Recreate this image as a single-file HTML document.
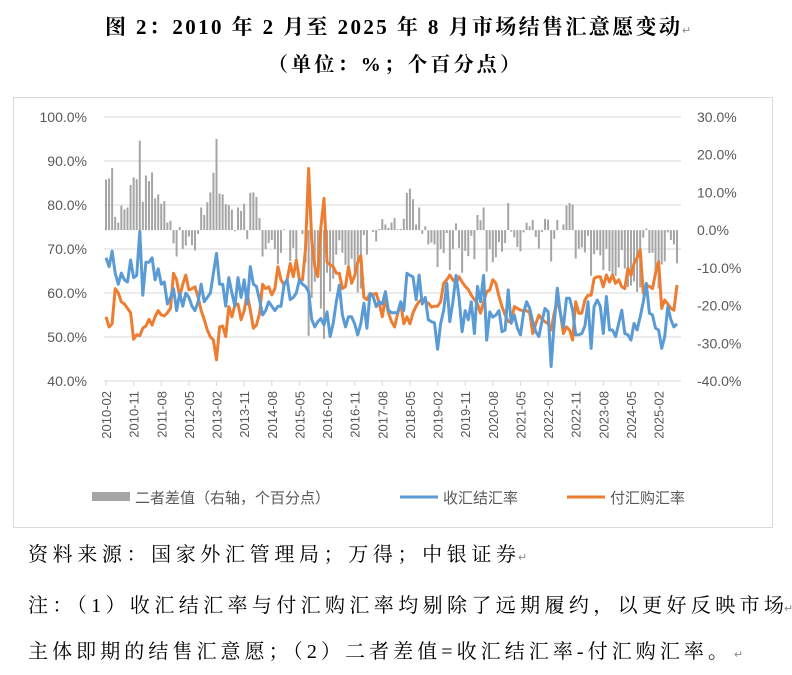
<!DOCTYPE html>
<html><head><meta charset="utf-8">
<style>
body{margin:0;background:#fff;width:792px;height:675px;overflow:hidden;font-family:"Liberation Serif","Noto Serif CJK SC",serif;}
</style></head><body>
<svg id="chart" style="position:absolute;left:0;top:0" width="792" height="675" xmlns="http://www.w3.org/2000/svg">
<g font-family="Liberation Serif, Noto Serif CJK SC, serif" fill="#000">
<text x="105" y="34" font-size="21" font-weight="bold" textLength="575" lengthAdjust="spacing">图 2：2010 年 2 月至 2025 年 8 月市场结售汇意愿变动</text>
<text x="682" y="34" font-size="11" fill="#888">↵</text>
<text x="268" y="71" font-size="20" font-weight="bold" textLength="252" lengthAdjust="spacing">（单位：%；个百分点）</text>
<text x="28" y="561" font-size="20" textLength="488" lengthAdjust="spacing">资料来源：国家外汇管理局；万得；中银证券</text>
<text x="518" y="561" font-size="11" fill="#888">↵</text>
<text x="28" y="612" font-size="20" textLength="756" lengthAdjust="spacing">注：（1）收汇结汇率与付汇购汇率均剔除了远期履约，以更好反映市场</text>
<text x="784" y="612" font-size="11" fill="#888">↵</text>
<text x="28" y="658" font-size="20" textLength="700" lengthAdjust="spacing">主体即期的结售汇意愿；（2）二者差值=收汇结汇率-付汇购汇率。</text>
<text x="734" y="658" font-size="11" fill="#888">↵</text>
</g>
</svg>
<script>
const startYear=2010, startMonth=2;
const receiptRate=[68,66,69.5,64.5,62,64.5,63,62.5,67.5,63.5,64,74,59.5,67,67,68,63,65.5,62,62.5,57.5,59,61,56,60,57,60,59,57,56,58,62,58,59,60,64.5,69,62,62,57,63.5,60,57,63.5,59,63,57.5,66,62,61.5,58.5,55,56,58,57,56,57,57,62,63,58.5,59,60,63,
62,61.5,60.3,54,52.3,53.5,54.2,52.7,55.7,50.1,53.1,58,61.8,55,52.3,54.6,54.6,53,50.5,53,57.7,52,59.9,59.2,56.9,58,57.5,60.3,56.1,55.5,55.5,55.5,58,56,64.5,64,63.7,58.5,64.1,57.5,59,53.9,53.5,53.2,47.2,53,56.1,62.2,53.5,58,64,59,51.2,56,53.9,58,50.8,61.5,58,64,49.3,55.7,
54.5,55,56,51.2,51.6,60.7,53.1,55,52,50.5,55.4,58,56.5,53.5,51.2,50.1,53.5,56.5,55.8,43.3,53.1,61.1,55.4,52.3,58.8,58.8,56.1,50.5,50.5,50.8,52.5,58,47.4,56.9,58.4,57,50.8,59.2,51.6,51.6,50.1,53.1,56.1,50.8,50.5,49.3,53.1,51.6,54.6,58,62.2,55.4,55,52,51.6,47.4,50.1,56.9,53.9,52.3,53];
const paymentRate=[54.6,52.3,53,61,60,58,57.5,56.5,55.5,49.5,50.5,50.3,52,52.5,54,52.7,54.6,56,55,54.8,55.5,56.5,64.5,63,59.2,62,64.1,60.7,61,61.4,59,56,54,51.6,50,49.3,44.8,52.3,52.5,50.1,56.9,54.6,57.3,57.5,53.9,56,59.9,56.1,52,52.7,55.3,62,61,61.4,59.6,61,66,63,61.8,63,66.7,63.7,67.5,63,
63,70,88.3,72,66,63.7,75,81.5,67,66.4,66,64.5,64.5,61,61.5,66,62.2,64,67,68.5,59,58.5,59.9,59.7,59.9,57.7,54.6,58.8,55.5,53.5,52.3,55.3,57.7,53,54.6,53,55.5,57,58.1,58.5,58,57.7,56.8,57,57,58,62.2,63,64.1,63,62.2,63.7,62.5,61.5,60.8,59.5,58.5,57.5,55.4,58,60.3,60.7,
63,62.2,59.2,56.9,55,53.5,53.5,56.9,56.5,56.1,56,56,55.5,50.8,53,55,54,53.5,53,51.6,55.4,58.4,55.4,50.8,52.3,51.6,49.3,58,55.4,55.4,58.4,59.5,59.5,63.3,63.7,63.7,61.4,64.1,62.5,64.1,62.2,63,61.4,61,65.6,64,66.7,68,69.8,60,61.8,61.5,61,64.5,67.1,56.5,58.4,57.5,56.5,56.1,61.8];
const leftTicks=["40.0%","50.0%","60.0%","70.0%","80.0%","90.0%","100.0%"];
const leftTickValues=[40,50,60,70,80,90,100];
const rightTicks=["-40.0%","-30.0%","-20.0%","-10.0%","0.0%","10.0%","20.0%","30.0%"];
const rightTickValues=[-40,-30,-20,-10,0,10,20,30];

const svg=document.getElementById('chart');
const NS='http://www.w3.org/2000/svg';
function mk(tag,attrs,parent){const e=document.createElementNS(NS,tag);for(const k in attrs)e.setAttribute(k,attrs[k]);(parent||svg).appendChild(e);return e;}
const X0=106, DX=3.07, PL=104, PR=681;
const yL=v=>117+(100-v)*4.4;
const yR=v=>117+(30-v)*3.771;
const xM=i=>X0+i*DX;

let frame=mk('rect',{x:13.5,y:97.5,width:759,height:430,fill:'none',stroke:'#d9d9d9'});


leftTickValues.forEach((v,k)=>{
  let g=mk('line',{x1:PL,x2:PR,y1:yL(v),y2:yL(v),stroke:'#d9d9d9','stroke-width':1});
  
  
  let t=mk('text',{x:87,y:yL(v)+5,'text-anchor':'end','font-size':14,fill:'#595959','font-family':'Liberation Sans, sans-serif'});
  t.textContent=leftTicks[k];
  
  
});
rightTickValues.forEach((v,k)=>{
  let t=mk('text',{x:697,y:yR(v)+5,'text-anchor':'start','font-size':14,fill:'#595959','font-family':'Liberation Sans, sans-serif'});
  t.textContent=rightTicks[k];
  
  
});
const n=Math.min(receiptRate.length,paymentRate.length);
for(let i=0;i<n;i++){
  const d=receiptRate[i]-paymentRate[i];
  const y0=yR(0), y1=yR(d);
  let b=mk('rect',{x:xM(i)-1,y:Math.min(y0,y1),width:2,height:Math.abs(y1-y0),fill:'#a5a5a5'});
  
  
}
function line(arr,color,name){
  let p=arr.map((v,i)=>(i?'L':'M')+xM(i).toFixed(1)+' '+yL(v).toFixed(1)).join(' ');
  let e=mk('path',{d:p,fill:'none',stroke:color,'stroke-width':3,'stroke-linejoin':'round'});
  
  
}
line(paymentRate,'#ed7d31','payment-rate-line');
line(receiptRate,'#5b9bd5','receipt-rate-line');
let ax=mk('line',{x1:PL,x2:PR,y1:yL(40),y2:yL(40),stroke:'#d9d9d9'});


for(let i=0;i<n;i+=9){
  let m=startMonth-1+i, yr=startYear+Math.floor(m/12), mo=m%12+1;
  let tk=mk('line',{x1:xM(i),x2:xM(i),y1:yL(40),y2:yL(40)+5,stroke:'#d9d9d9'});
  
  
  let t=mk('text',{x:0,y:0,'text-anchor':'end','font-size':13,fill:'#595959','font-family':'Liberation Sans, sans-serif',transform:`translate(${xM(i)+5},${yL(40)+10}) rotate(-90)`});
  t.textContent=yr+'-'+String(mo).padStart(2,'0');
  
  
}
const lg=[['二者差值（右轴，个百分点）','#a5a5a5',92,'bar'],['收汇结汇率','#5b9bd5',400,'line'],['付汇购汇率','#ed7d31',567,'line']];
lg.forEach(l=>{
  let g=mk('g',{});
  
  
  if(l[3]=='bar') mk('rect',{x:l[2],y:492,width:38,height:9,fill:l[1]},g);
  else mk('line',{x1:l[2],x2:l[2]+38,y1:497,y2:497,stroke:l[1],'stroke-width':3},g);
  let t=mk('text',{x:l[2]+43,y:503,'font-size':15,fill:'#595959','font-family':'Liberation Sans, Noto Sans CJK SC, sans-serif'},g);
  t.textContent=l[0];
});
</script>
</body></html>
